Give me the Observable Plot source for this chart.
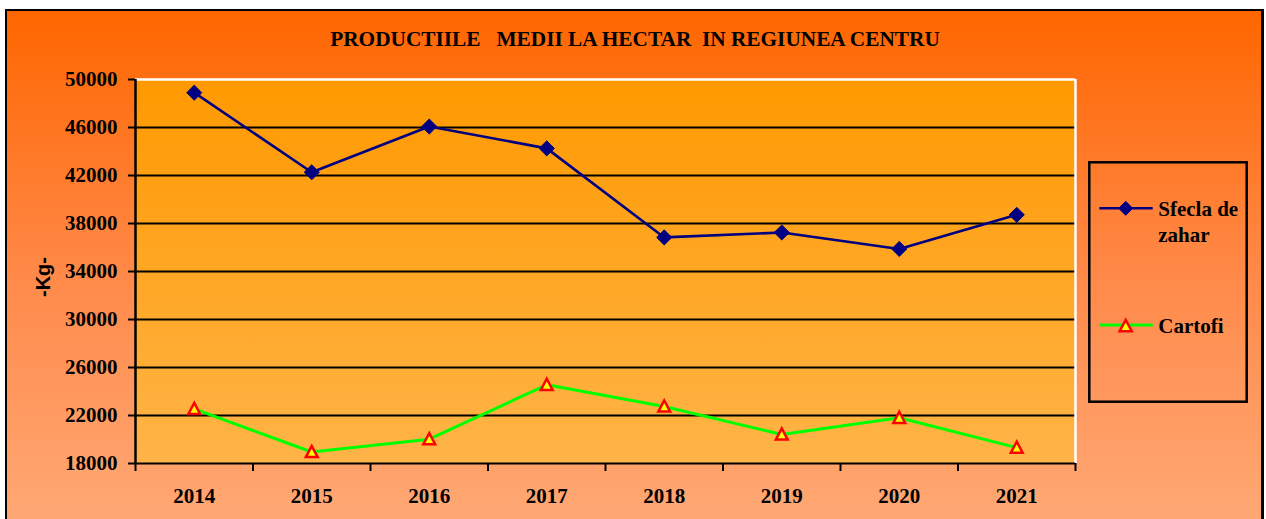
<!DOCTYPE html>
<html>
<head>
<meta charset="utf-8">
<script src="https://cdn.jsdelivr.net/npm/d3@7"></script>
<script src="https://cdn.jsdelivr.net/npm/@observablehq/plot@0.6"></script>
<style>
  html, body { margin: 0; padding: 0; background: #ffffff; }
  #wrap { position: relative; width: 1266px; height: 519px; overflow: hidden; background: #ffffff; }
  #panel { position: absolute; left: 5px; top: 9px; width: 1259px; height: 540px; box-sizing: border-box;
           border: 2.5px solid #000; border-right-width: 3px;
           background: linear-gradient(to bottom, #FF6600 0px, #FF8A4A 270px, #FFAC7A 540px); }
  #plot { position: absolute; left: 0; top: 0; }
</style>
</head>
<body>
<div id="wrap"><div id="panel"></div><div id="plot"></div></div>
<script>
// ---- data ----
const years = [2014, 2015, 2016, 2017, 2018, 2019, 2020, 2021];
const yearLabels = ["2014", "2015", "2016", "2017", "2018", "2019", "2020", "2021"];
const sfecla = [48900, 42270, 46080, 44260, 36840, 37250, 35880, 38720];
const cartofi = [22550, 18960, 20030, 24560, 22750, 20420, 21810, 19320];
const yTicks = [18000, 22000, 26000, 30000, 34000, 38000, 42000, 46000, 50000];
const seriesNames = ["Sfecla de zahar", "Cartofi"];
const titleText = "PRODUCTIILE   MEDII LA HECTAR  IN REGIUNEA CENTRU";
const yUnit = "-Kg-";

// ---- derived ----
const rows = years.map((year, i) => ({year, sfecla: sfecla[i], cartofi: cartofi[i]}));
const xDomain = [years[0] - 0.5, years[years.length - 1] + 0.5];
const boundaries = [...years.map(y => y - 0.5), years[years.length - 1] + 0.5];
const gridValues = yTicks.slice(1, -1);
const serif = "'Liberation Serif', 'Times New Roman', serif";
const font = {fontSize: 21, fontWeight: "bold", fontFamily: serif};

const tri = {
  draw(ctx, size) {
    const s = Math.sqrt(size / Math.PI);
    ctx.moveTo(0, -s);
    ctx.lineTo(s * 0.98, s * 0.85);
    ctx.lineTo(-s * 0.98, s * 0.85);
    ctx.closePath();
  }
};

const svg = Plot.plot({
  width: 1266,
  height: 519,
  marginLeft: 135,
  marginRight: 191,
  marginTop: 79,
  marginBottom: 56,
  style: {background: "transparent", overflow: "visible", color: "black"},
  x: {type: "linear", domain: xDomain},
  y: {domain: [yTicks[0], yTicks[yTicks.length - 1]]},
  marks: [
    Plot.frame({fill: "url(#plotGrad)", stroke: "none"}),
    Plot.ruleY(gridValues, {stroke: "black", strokeWidth: 2}),
    Plot.ruleY([yTicks[yTicks.length - 1]], {stroke: "white", strokeWidth: 2.5}),
    Plot.ruleX([xDomain[1]], {stroke: "white", strokeWidth: 2.5}),
    Plot.ruleY([yTicks[0]], {stroke: "black", strokeWidth: 2}),
    Plot.ruleX([xDomain[0]], {stroke: "black", strokeWidth: 2.5}),
    Plot.axisY({ticks: yTicks, tickSize: 7, tickPadding: 11, tickFormat: d => String(d),
      strokeWidth: 2, color: "black", label: null, ...font}),
    Plot.axisX({ticks: boundaries, tickSize: 8, tickFormat: () => "", strokeWidth: 2, color: "black", label: null}),
    Plot.axisX({ticks: years, tickSize: 0, tickPadding: 25, tickFormat: d => yearLabels[years.indexOf(d)],
      color: "black", label: null, ...font}),
    Plot.line(rows, {x: "year", y: "sfecla", stroke: "#000080", strokeWidth: 2.6}),
    Plot.dot(rows, {x: "year", y: "sfecla", symbol: "diamond2", r: 6.8, fill: "#000080", stroke: "#000080", strokeWidth: 1}),
    Plot.line(rows, {x: "year", y: "cartofi", stroke: "#00FF00", strokeWidth: 3}),
    Plot.dot(rows, {x: "year", y: "cartofi", symbol: tri, r: 6, fill: "#FFFF00", stroke: "#FF0000", strokeWidth: 2.5})
  ]
});

const s = d3.select(svg);
const grad = s.insert("defs", ":first-child").append("linearGradient")
  .attr("id", "plotGrad").attr("x1", 0).attr("y1", 0).attr("x2", 0).attr("y2", 1);
grad.append("stop").attr("offset", "0%").attr("stop-color", "#FF9900");
grad.append("stop").attr("offset", "100%").attr("stop-color", "#FFB448");

// title
s.append("text").attr("x", 635).attr("y", 46).attr("text-anchor", "middle")
  .attr("font-family", serif).attr("font-weight", "bold").attr("font-size", 21.3)
  .attr("fill", "black").style("white-space", "pre").attr("xml:space", "preserve").text(titleText);

// y unit label
s.append("text").attr("transform", "translate(50,277) rotate(-90)").attr("text-anchor", "middle")
  .attr("font-family", "'Liberation Sans', Arial, sans-serif").attr("font-weight", "bold").attr("font-size", 20)
  .attr("fill", "black").text(yUnit);

// legend
const lg = s.append("g").attr("text-anchor", "start");
lg.append("rect").attr("x", 1089.3).attr("y", 162.3).attr("width", 157.4).attr("height", 239.4)
  .attr("fill", "none").attr("stroke", "black").attr("stroke-width", 2.5);
const lfont = g => g.attr("text-anchor", "start").attr("font-family", serif).attr("font-weight", "bold")
  .attr("font-size", 21).attr("fill", "black");
lg.append("line").attr("x1", 1099.3).attr("x2", 1152.7).attr("y1", 208.3).attr("y2", 208.3)
  .attr("stroke", "#000080").attr("stroke-width", 2.6);
lg.append("path").attr("d", d3.symbol(d3.symbolDiamond2, 125)()).attr("transform", "translate(1125.7,208.3)")
  .attr("fill", "#000080").attr("stroke", "#000080").attr("stroke-width", 1);
const words = seriesNames[0].split(" ");
lg.append("text").attr("x", 1158.3).attr("y", 216).call(lfont).text(words.slice(0, 2).join(" "));
lg.append("text").attr("x", 1158.3).attr("y", 242).call(lfont).text(words.slice(2).join(" "));
lg.append("line").attr("x1", 1099.3).attr("x2", 1152.7).attr("y1", 325).attr("y2", 325)
  .attr("stroke", "#00FF00").attr("stroke-width", 3);
lg.append("path").attr("d", d3.symbol(tri, Math.PI * 6.2 * 6.2)()).attr("transform", "translate(1125.7,326)")
  .attr("fill", "#FFFF00").attr("stroke", "#FF0000").attr("stroke-width", 2.5);
lg.append("text").attr("x", 1158.3).attr("y", 332.7).call(lfont).text(seriesNames[1]);

document.getElementById("plot").appendChild(svg);
</script>
</body>
</html>
